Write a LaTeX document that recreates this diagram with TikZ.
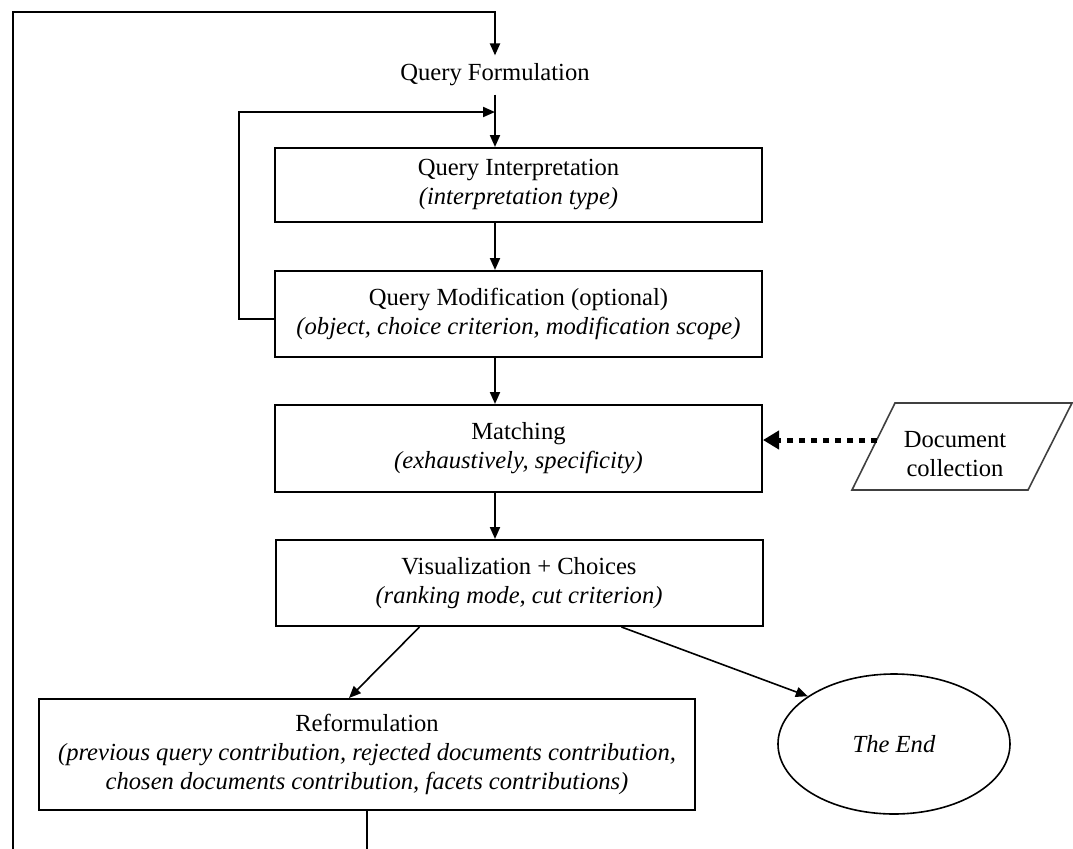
\documentclass[tikz,border=0pt]{standalone}
\usepackage{fontspec}
\setmainfont{Liberation Serif}
\usetikzlibrary{arrows.meta,shapes.geometric,calc}
\begin{document}
\begin{tikzpicture}[x=0.5pt,y=-0.5pt,
  every node/.style={font=\fontsize{12.3}{14.5}\selectfont, align=center},
  box/.style={draw, line width=1pt, rectangle, minimum width=243.5pt, inner sep=0pt},
  flow/.style={line width=1pt, -{Triangle[length=6pt,width=5pt]}},
  diag/.style={line width=0.8pt, -{Triangle[length=6pt,width=5pt]}},
  feed/.style={line width=2.5pt, dash pattern=on 3pt off 3pt, -{Triangle[length=8pt,width=9pt]}}
]
\useasboundingbox (0,0) rectangle (1073,848);
\clip (0,0) rectangle (1073,848);

% process steps
\node[inner sep=4pt] (qf) at (495,75) {Query Formulation};
\node[box, minimum height=37pt] (qi) at (518.5,185)
  {Query Interpretation\\\textit{(interpretation type)}};
\node[box, minimum height=43pt] (qm) at (518.5,314)
  {Query Modification (optional)\\\textit{(object, choice criterion, modification scope)}};
\node[box, minimum height=43.5pt] (match) at (518.5,448.5)
  {Matching\\\textit{(exhaustively, specificity)}};
\node[box, minimum height=43pt] (vis) at (519,583)
  {Visualization + Choices\\\textit{(ranking mode, cut criterion)}};
\node[box, minimum width=328pt, minimum height=55.5pt] (ref) at (367,754.5)
  {Reformulation\\\textit{(previous query contribution, rejected documents contribution,}\\
   \textit{chosen documents contribution, facets contributions)}};
\node[draw, ellipse, line width=0.8pt, minimum width=116pt, minimum height=70pt, inner sep=0pt]
  (end) at (894,744) {\textit{The End}};

% data input (parallelogram)
\draw[line width=0.8pt, draw=black!75] (852,490) -- (895,403) -- (1072,403) -- (1028,490) -- cycle;
\node (doc) at (955,454) {Document\\collection};
\coordinate (docin) at (877,440);

% main flow
\draw[flow] (qf.south) -- (qf.south |- qi.north);
\draw[flow] (qf |- qi.south) -- (qf |- qm.north);
\draw[flow] (qf |- qm.south) -- (qf |- match.north);
\draw[flow] (qf |- match.south) -- (qf |- vis.north);
\draw[diag] ($(vis.south west)+(145,0)$) -- ($(ref.north west)+(311,0)$);
\draw[diag] ($(vis.south west)+(347,0)$) -- (end.151);
\draw[feed] (docin) -- (docin -| match.east);

% modification loop
\coordinate (innerleft) at (239,112);
\draw[flow] ([yshift=-2.5pt]qm.west) -| (innerleft) -- (innerleft -| qf.south);

% reformulation loop back to the query
\coordinate (loopbot) at (13,880);
\coordinate (looptop) at (13,12);
\draw[flow] (ref.south) -- (ref.south |- loopbot) -- (loopbot) -- (looptop)
  -- (looptop -| qf.north) -- (qf.north);
\end{tikzpicture}
\end{document}
